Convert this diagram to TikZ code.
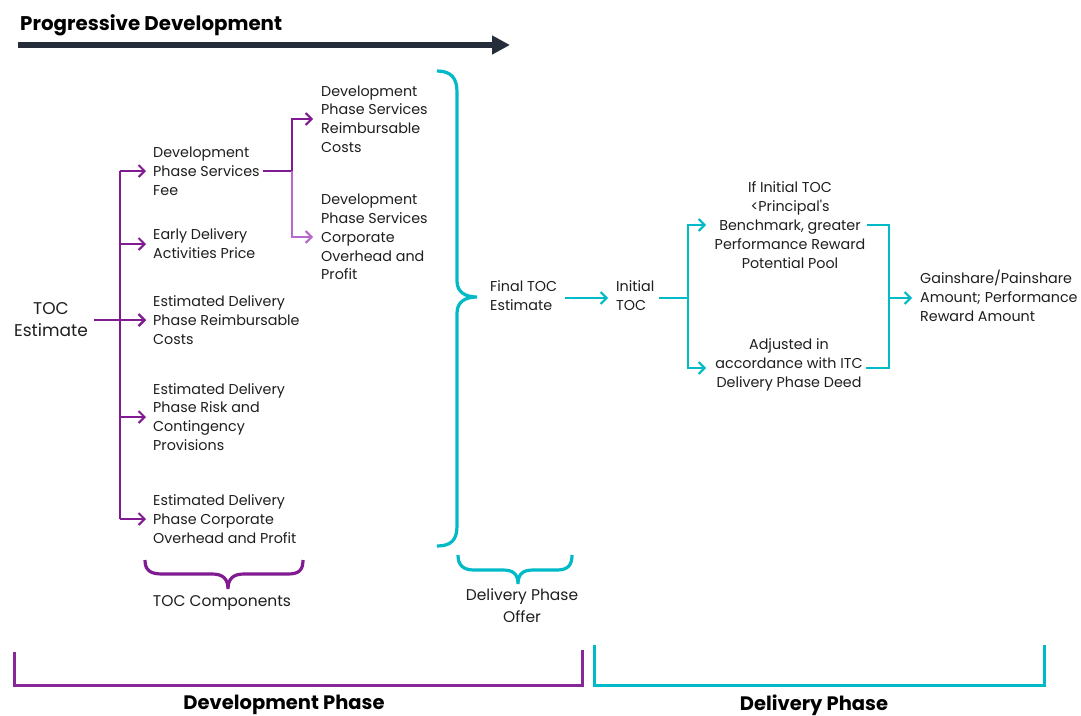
\documentclass[tikz,border=0pt]{standalone}
\usepackage{fontspec}
\setmainfont{Poppins}
\usetikzlibrary{arrows.meta}
\definecolor{pur}{RGB}{128,27,145}
\definecolor{lpur}{RGB}{184,104,204}
\definecolor{tealc}{RGB}{0,186,200}
\definecolor{navy}{RGB}{37,44,58}
\definecolor{ink}{RGB}{30,30,30}
\tikzset{
  txt/.style={font=\fontsize{14.3}{18.8}\selectfont, align=left, anchor=west, inner sep=0pt, text=ink},
  ctxt/.style={font=\fontsize{14.3}{18.8}\selectfont, align=center, inner sep=0pt, text=ink},
  bigtxt/.style={font=\bfseries\fontsize{19.5}{22}\selectfont, inner sep=0pt, text=black},
  pline/.style={draw=pur, line width=2pt},
  lpline/.style={draw=lpur, line width=2pt},
  parr/.style={pline, -{Straight Barb[length=6pt,width=12pt]}},
  lparr/.style={lpline, -{Straight Barb[length=6pt,width=12pt]}},
  tline/.style={draw=tealc, line width=2pt},
  tarr/.style={tline, -{Straight Barb[length=6pt,width=12pt]}},
  pbrace/.style={draw=pur, line width=3.2pt},
  tbrace/.style={draw=tealc, line width=3.2pt},
}
\begin{document}
\begin{tikzpicture}[x=1pt,y=-1pt]
\useasboundingbox (0,0) rectangle (1081,715);

% title
\node[bigtxt, anchor=west, font=\bfseries\fontsize{19.8}{22}\selectfont] (title) at (20,25) {Progressive Development};
\coordinate (pstart) at (18,45);
\coordinate (pend) at (510,45);
\draw[navy, line width=6pt, -{Triangle[length=18pt,width=18pt]}] (pstart) -- (pend);

% TOC estimate and components
\node[ctxt, font=\fontsize{17}{22}\selectfont] (toc) at (51,320) {TOC\\Estimate};
\node[txt] (fee) at (153,171) {Development\\Phase Services\\Fee};
\node[txt] (early) at (153,244) {Early Delivery\\Activities Price};
\node[txt] (reimb) at (153,320) {Estimated Delivery\\Phase Reimbursable\\Costs};
\node[txt] (risk) at (153,417) {Estimated Delivery\\Phase Risk and\\Contingency\\Provisions};
\node[txt] (corp) at (153,519) {Estimated Delivery\\Phase Corporate\\Overhead and Profit};

\coordinate (trunk) at (120,0);
\draw[pline] (fee.west -| trunk) -- (corp.west -| trunk);
\draw[parr] ([xshift=6pt]toc.east |- reimb.west) -- ([xshift=-7pt]reimb.west);
\foreach \n in {fee,early,reimb,risk,corp}
  \draw[parr] (\n.west -| trunk) -- ([xshift=-7pt]\n.west);

% development phase services sub-components
\node[txt] (dpsr) at (321,119) {Development\\Phase Services\\Reimbursable\\Costs};
\node[txt] (dpsc) at (321,237) {Development\\Phase Services\\Corporate\\Overhead and\\Profit};
\coordinate (fork) at (292,0);
\draw[pline] ([xshift=3pt]fee.east) -- (fee.east -| fork);
\draw[lparr] (fee.east -| fork) -- (dpsc.west -| fork) -- ([xshift=-8pt]dpsc.west);
\draw[parr] (fee.east -| fork) -- (dpsr.west -| fork) -- ([xshift=-8pt]dpsr.west);

% big teal brace
\draw[tbrace] (437,71) .. controls (451,71) and (457,78) .. (457,92)
  -- (457,281) .. controls (457,292) and (465,297) .. (477,297)
  .. controls (465,297) and (457,302) .. (457,313)
  -- (457,526) .. controls (457,540) and (451,546) .. (437,546);

% delivery side
\node[txt] (final) at (490,296) {Final TOC\\Estimate};
\node[txt] (initial) at (616,296) {Initial\\TOC};
\draw[tarr] ([xshift=8pt]final.east |- 0,298) -- ([xshift=-8pt]initial.west |- 0,298);

\node[ctxt] (pool) at (790,225) {If Initial TOC\\<Principal\textquotesingle s\\Benchmark, greater\\Performance Reward\\Potential Pool};
\node[ctxt] (adj) at (789,365) {Adjusted in\\accordance with ITC\\Delivery Phase Deed};
\node[txt] (gain) at (920,296) {Gainshare/Painshare\\Amount; Performance\\Reward Amount};

\coordinate (tfork) at (688,298);
\coordinate (tmerge) at (889,298);
\draw[tline] ([xshift=4pt]initial.east |- tfork) -- (tfork);
\draw[tarr] (tfork) -- (tfork |- 0,225) -- (706,225);
\draw[tarr] (tfork) -- (tfork |- 0,368) -- (706,368);
\draw[tline] ([xshift=2pt]pool.east |- 0,225) -- (tmerge |- 0,225) -- (tmerge |- 0,368) -- ([xshift=3pt]adj.east |- 0,368);
\draw[tarr] (tmerge) -- ([xshift=-8pt]gain.west |- tmerge);

% TOC components brace
\draw[pbrace] (145,560) .. controls (145,570) and (150,574) .. (162,574)
  -- (212,574) .. controls (222,574) and (228,578) .. (228,589)
  .. controls (228,578) and (234,574) .. (244,574)
  -- (288,574) .. controls (299,574) and (303,570) .. (303,560);
\node[ctxt, font=\fontsize{15.5}{22}\selectfont] (tocc) at (222,603) {TOC Components};

% delivery phase offer brace
\draw[tbrace] (458,555) .. controls (458,565) and (463,570) .. (474,570)
  -- (503,570) .. controls (513,570) and (518,574) .. (518,584)
  .. controls (518,574) and (523,570) .. (533,570)
  -- (557,570) .. controls (568,570) and (572,565) .. (572,555);
\node[ctxt, font=\fontsize{15.5}{22}\selectfont] (dpo) at (522,606) {Delivery Phase\\Offer};

% phase brackets
\draw[draw=pur!85!lpur, line width=3pt] (14,652) -- (14,685) -- (582,685) -- (582,650);
\draw[tbrace, line width=3pt] (594,645) -- (594,685) -- (1044,685) -- (1044,645);
\node[bigtxt] (devp) at (284,705) {Development Phase};
\node[bigtxt] (delp) at (814,705) {Delivery Phase};
\end{tikzpicture}
\end{document}
